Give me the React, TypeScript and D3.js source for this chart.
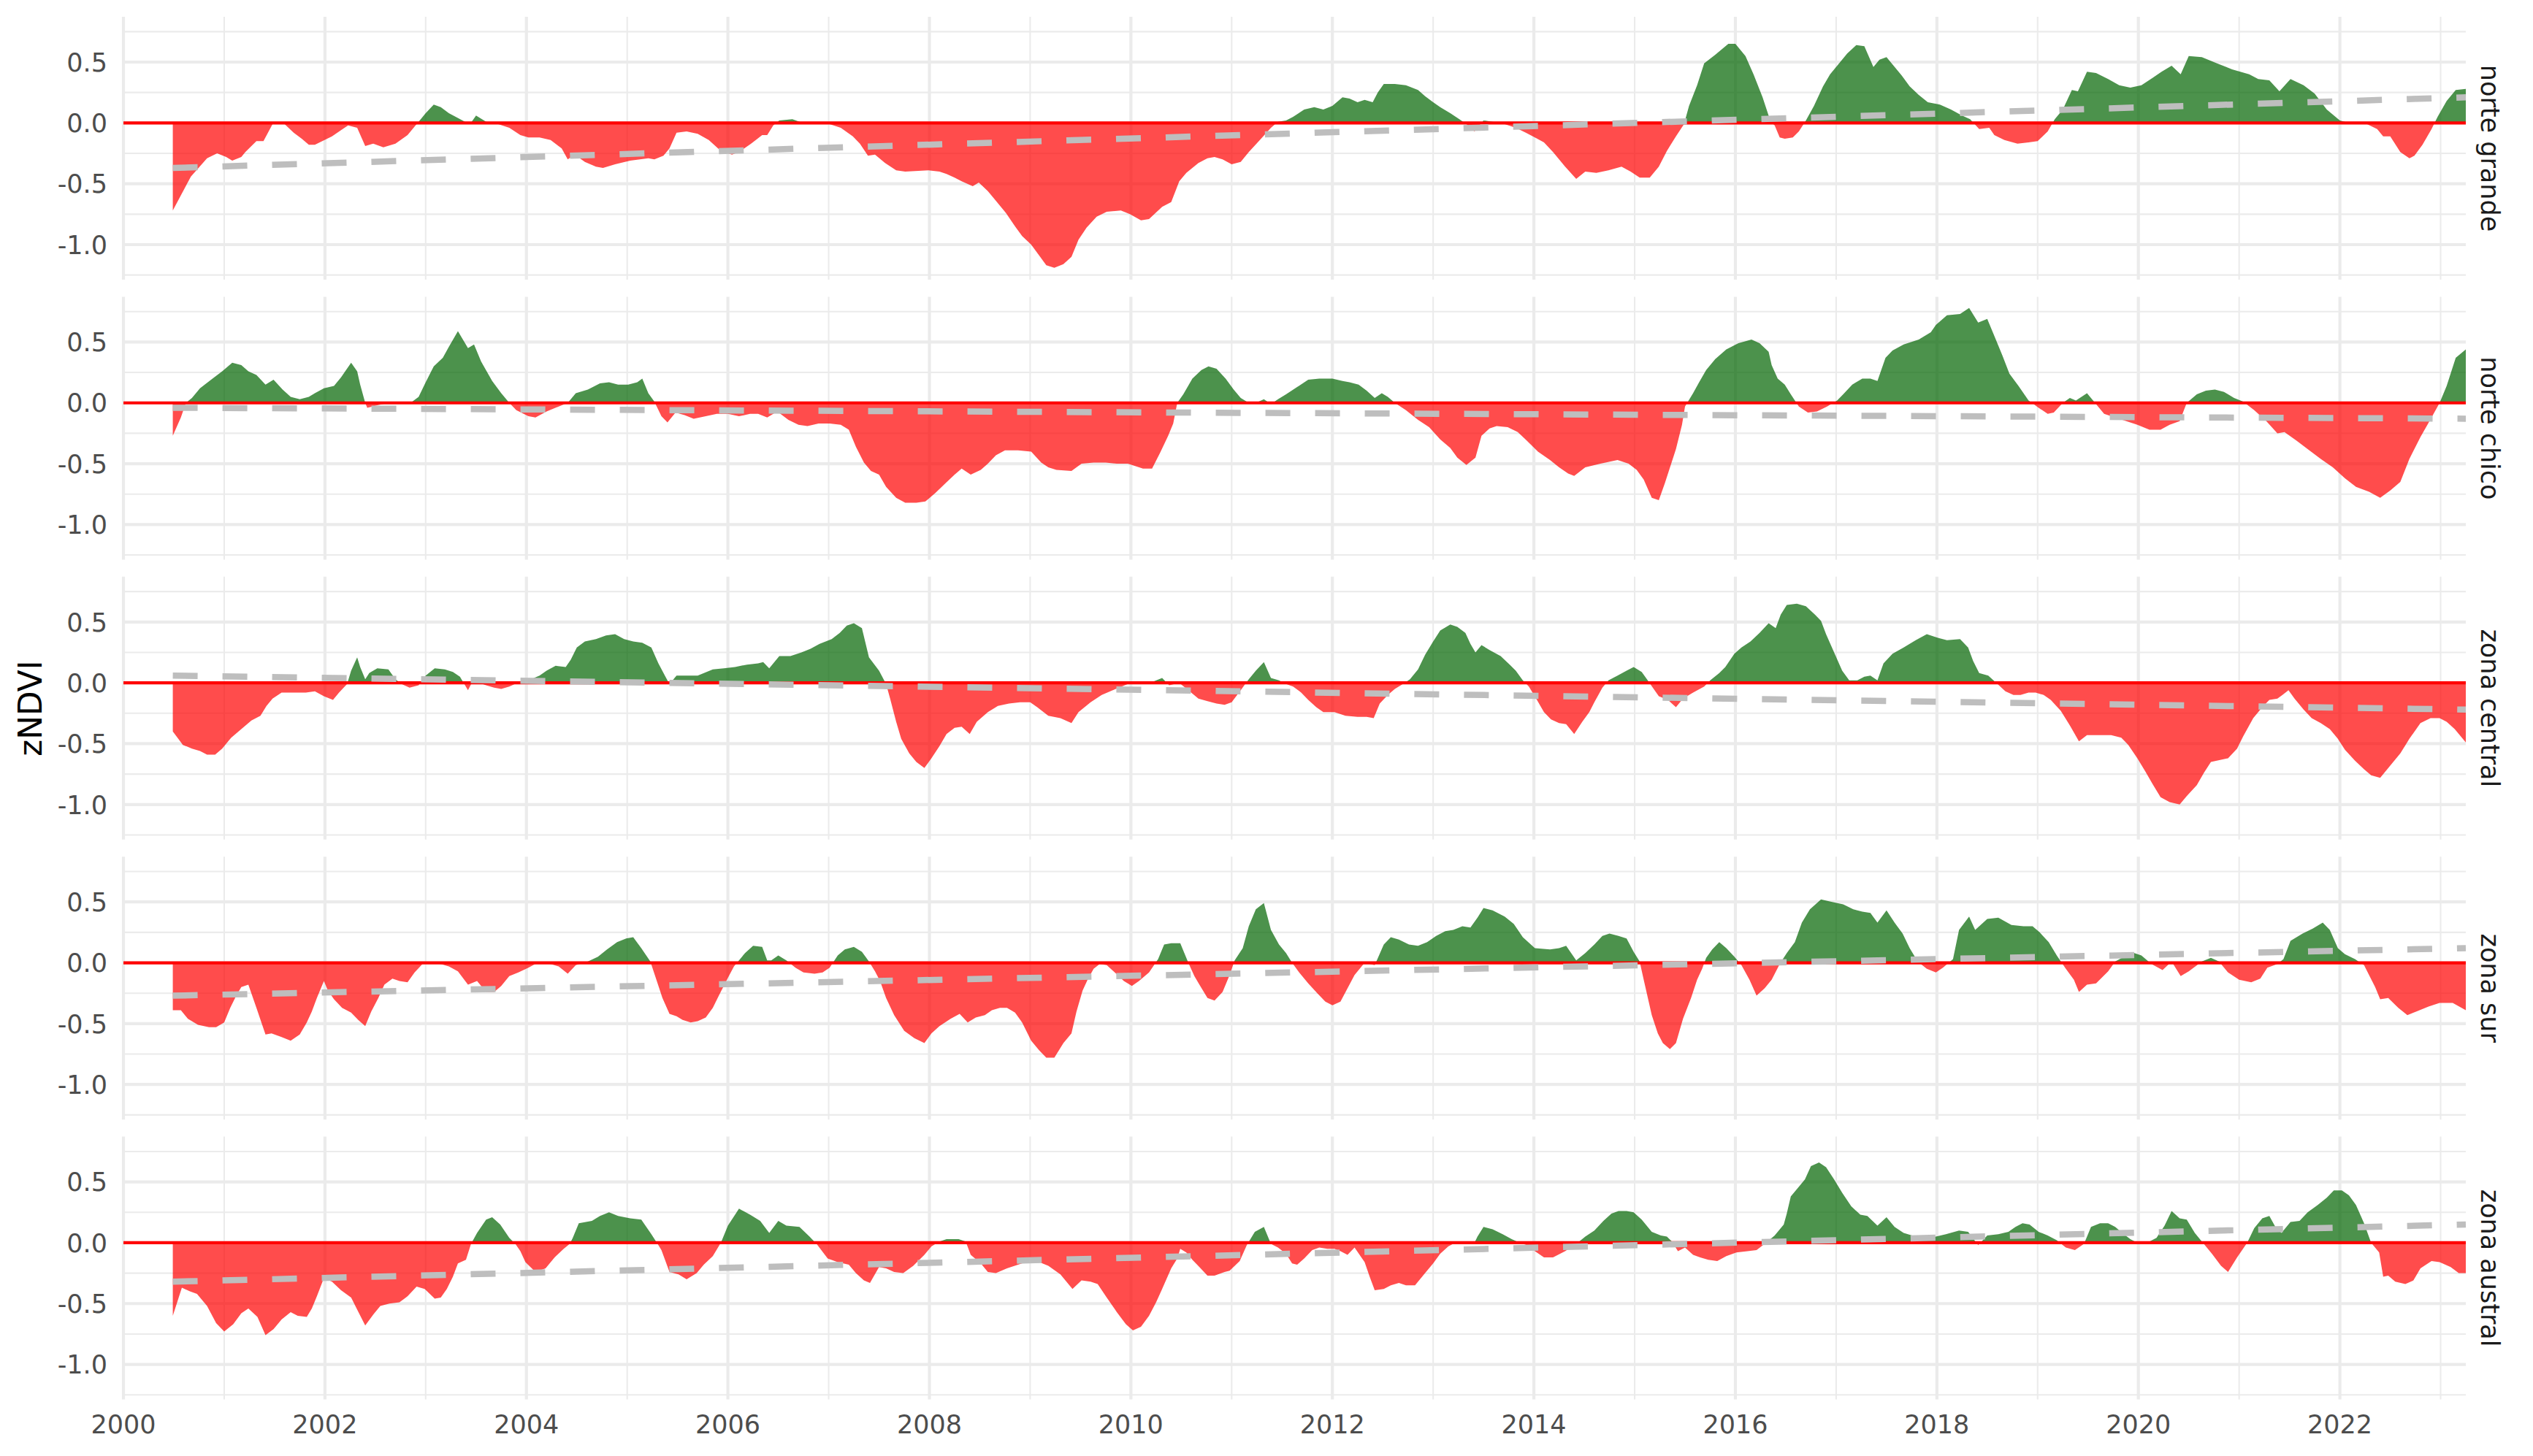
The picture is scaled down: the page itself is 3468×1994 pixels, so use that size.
import React from 'react';
import * as d3 from 'd3';

type Pt = [number, number];

const regions = ['norte grande', 'norte chico', 'zona central', 'zona sur', 'zona austral'];

const norteGrande: Pt[] = [
  [2000.49, -0.72], [2000.67, -0.44], [2000.83, -0.29], [2000.93, -0.25], [2001.02, -0.28], [2001.08, -0.31], [2001.17, -0.28], [2001.21, -0.24], [2001.32, -0.15], [2001.39, -0.15], [2001.48, -0.01], [2001.6, -0.01], [2001.69, -0.08], [2001.77, -0.13], [2001.84, -0.18], [2001.9, -0.18], [2002.07, -0.11], [2002.16, -0.06], [2002.23, -0.02], [2002.32, -0.04], [2002.4, -0.19], [2002.48, -0.17], [2002.58, -0.2], [2002.7, -0.17], [2002.82, -0.1], [2002.88, -0.04], [2002.93, 0.01], [2003.0, 0.08], [2003.08, 0.15], [2003.15, 0.13], [2003.23, 0.08], [2003.39, 0.01], [2003.44, -0.01], [2003.5, 0.06], [2003.6, 0.01], [2003.72, -0.01], [2003.83, -0.04], [2003.94, -0.1], [2004.02, -0.12], [2004.13, -0.12], [2004.24, -0.14], [2004.35, -0.21], [2004.41, -0.3], [2004.48, -0.26], [2004.58, -0.32], [2004.69, -0.36], [2004.76, -0.37], [2004.88, -0.34], [2005.03, -0.31], [2005.21, -0.29], [2005.27, -0.3], [2005.36, -0.27], [2005.42, -0.21], [2005.49, -0.08], [2005.59, -0.07], [2005.7, -0.09], [2005.81, -0.14], [2005.93, -0.23], [2006.04, -0.26], [2006.11, -0.24], [2006.23, -0.17], [2006.34, -0.1], [2006.39, -0.1], [2006.45, -0.02], [2006.51, 0.02], [2006.64, 0.03], [2006.71, 0.01], [2006.82, -0.01], [2007.01, -0.01], [2007.12, -0.04], [2007.24, -0.11], [2007.31, -0.17], [2007.39, -0.27], [2007.46, -0.26], [2007.56, -0.33], [2007.67, -0.39], [2007.76, -0.4], [2007.99, -0.39], [2008.1, -0.4], [2008.17, -0.42], [2008.25, -0.45], [2008.32, -0.48], [2008.43, -0.52], [2008.49, -0.49], [2008.58, -0.56], [2008.66, -0.64], [2008.76, -0.74], [2008.85, -0.85], [2008.92, -0.93], [2009.01, -1.0], [2009.09, -1.09], [2009.16, -1.17], [2009.24, -1.19], [2009.33, -1.16], [2009.41, -1.1], [2009.48, -0.96], [2009.56, -0.86], [2009.66, -0.77], [2009.76, -0.73], [2009.9, -0.72], [2009.99, -0.75], [2010.1, -0.8], [2010.18, -0.79], [2010.31, -0.69], [2010.4, -0.65], [2010.48, -0.48], [2010.55, -0.41], [2010.67, -0.33], [2010.76, -0.29], [2010.83, -0.28], [2010.91, -0.3], [2011.0, -0.34], [2011.09, -0.32], [2011.17, -0.24], [2011.28, -0.14], [2011.39, -0.04], [2011.46, 0.01],
  [2011.54, 0.02], [2011.61, 0.05], [2011.72, 0.11], [2011.82, 0.13], [2011.91, 0.11], [2012.0, 0.14], [2012.1, 0.21], [2012.17, 0.2], [2012.25, 0.17], [2012.32, 0.19], [2012.4, 0.17], [2012.45, 0.25], [2012.51, 0.32], [2012.62, 0.32], [2012.73, 0.31], [2012.85, 0.27], [2012.92, 0.22], [2013.0, 0.17], [2013.07, 0.13], [2013.17, 0.08], [2013.26, 0.03], [2013.33, -0.01], [2013.41, -0.07], [2013.5, 0.02], [2013.59, 0.01], [2013.71, -0.01], [2013.82, -0.04], [2013.92, -0.08], [2014.01, -0.12], [2014.1, -0.16], [2014.19, -0.24], [2014.31, -0.36], [2014.42, -0.46], [2014.51, -0.4], [2014.62, -0.41], [2014.74, -0.39], [2014.87, -0.36], [2014.96, -0.4], [2015.05, -0.45], [2015.15, -0.45], [2015.24, -0.36], [2015.32, -0.23], [2015.41, -0.11], [2015.49, -0.01], [2015.54, 0.14], [2015.62, 0.31], [2015.69, 0.49], [2015.8, 0.56], [2015.93, 0.65], [2016.0, 0.65], [2016.1, 0.55], [2016.18, 0.4], [2016.27, 0.21], [2016.35, 0.01], [2016.39, -0.02], [2016.44, -0.12], [2016.49, -0.13], [2016.57, -0.12], [2016.63, -0.07], [2016.7, 0.02], [2016.78, 0.14], [2016.87, 0.3], [2016.94, 0.4], [2017.04, 0.5], [2017.11, 0.57], [2017.2, 0.64], [2017.28, 0.63], [2017.37, 0.46], [2017.43, 0.52], [2017.5, 0.54], [2017.56, 0.48], [2017.65, 0.39], [2017.73, 0.3], [2017.82, 0.23], [2017.91, 0.17], [2018.03, 0.15], [2018.14, 0.11], [2018.25, 0.06], [2018.33, 0.03], [2018.42, -0.05], [2018.52, -0.04], [2018.57, -0.1], [2018.67, -0.14], [2018.8, -0.17], [2018.91, -0.16], [2019.0, -0.15], [2019.1, -0.07], [2019.17, 0.03], [2019.25, 0.11], [2019.34, 0.27], [2019.4, 0.26], [2019.49, 0.42], [2019.58, 0.41], [2019.7, 0.36], [2019.81, 0.31], [2019.92, 0.29], [2020.03, 0.31], [2020.14, 0.37], [2020.23, 0.42], [2020.33, 0.47], [2020.42, 0.4], [2020.5, 0.55], [2020.63, 0.54], [2020.78, 0.49], [2020.93, 0.44], [2021.1, 0.4], [2021.19, 0.36], [2021.3, 0.35], [2021.4, 0.26], [2021.51, 0.36], [2021.64, 0.31], [2021.75, 0.24], [2021.87, 0.11], [2022.0, 0.02], [2022.09, 0.0], [2022.27, -0.01], [2022.37, -0.05], [2022.43, -0.11], [2022.5, -0.11], [2022.6, -0.24], [2022.69, -0.29], [2022.74, -0.27], [2022.82, -0.18], [2022.91, -0.05], [2022.97, 0.05], [2023.06, 0.18], [2023.15, 0.27], [2023.25, 0.28],
];

const norteChico: Pt[] = [
  [2000.49, -0.27], [2000.57, -0.12], [2000.62, 0.0], [2000.68, 0.04], [2000.76, 0.12], [2000.87, 0.19], [2000.98, 0.26], [2001.08, 0.33], [2001.17, 0.31], [2001.24, 0.26], [2001.32, 0.23], [2001.41, 0.15], [2001.49, 0.19], [2001.58, 0.11], [2001.66, 0.05], [2001.75, 0.03], [2001.84, 0.05], [2001.9, 0.08], [2001.99, 0.12], [2002.09, 0.14], [2002.16, 0.21], [2002.26, 0.33], [2002.32, 0.26], [2002.35, 0.15], [2002.4, 0.0], [2002.42, -0.04], [2002.52, -0.02], [2002.63, 0.0], [2002.85, 0.0], [2002.93, 0.05], [2003.0, 0.17], [2003.08, 0.3], [2003.17, 0.37], [2003.23, 0.46], [2003.32, 0.59], [2003.42, 0.45], [2003.48, 0.48], [2003.55, 0.34], [2003.66, 0.18], [2003.75, 0.08], [2003.83, 0.0], [2003.9, -0.06], [2004.02, -0.11], [2004.09, -0.12], [2004.2, -0.07], [2004.32, -0.03], [2004.41, 0.0], [2004.49, 0.08], [2004.61, 0.11], [2004.73, 0.16], [2004.82, 0.17], [2004.91, 0.15], [2005.01, 0.15], [2005.1, 0.17], [2005.15, 0.2], [2005.21, 0.08], [2005.27, 0.01], [2005.34, -0.11], [2005.4, -0.16], [2005.48, -0.08], [2005.57, -0.1], [2005.66, -0.13], [2005.78, -0.11], [2005.89, -0.09], [2006.0, -0.09], [2006.11, -0.11], [2006.22, -0.09], [2006.3, -0.09], [2006.39, -0.12], [2006.49, -0.07], [2006.6, -0.14], [2006.7, -0.18], [2006.79, -0.19], [2006.9, -0.17], [2007.01, -0.17], [2007.12, -0.18], [2007.2, -0.22], [2007.27, -0.36], [2007.35, -0.49], [2007.42, -0.56], [2007.5, -0.59], [2007.57, -0.69], [2007.67, -0.78], [2007.76, -0.82], [2007.87, -0.82], [2007.96, -0.81], [2008.06, -0.74], [2008.16, -0.66], [2008.25, -0.59], [2008.32, -0.54], [2008.41, -0.59], [2008.51, -0.55], [2008.58, -0.5], [2008.66, -0.43], [2008.75, -0.39], [2008.88, -0.39], [2009.01, -0.4], [2009.11, -0.49], [2009.18, -0.53], [2009.26, -0.55], [2009.41, -0.56], [2009.51, -0.5], [2009.63, -0.49], [2009.75, -0.49], [2009.86, -0.5], [2009.97, -0.5], [2010.12, -0.54], [2010.21, -0.54], [2010.29, -0.41], [2010.37, -0.27], [2010.42, -0.17], [2010.46, 0.0], [2010.52, 0.07], [2010.61, 0.2], [2010.7, 0.27], [2010.77, 0.3], [2010.85, 0.28], [2010.94, 0.2], [2011.02, 0.11], [2011.09, 0.04], [2011.17, 0.0], [2011.24, 0.0], [2011.32, 0.03], [2011.39, -0.01], [2011.46, 0.03],
  [2011.54, 0.07], [2011.65, 0.13], [2011.76, 0.19], [2011.87, 0.2], [2012.0, 0.2], [2012.1, 0.18], [2012.17, 0.17], [2012.26, 0.15], [2012.34, 0.1], [2012.42, 0.04], [2012.49, 0.08], [2012.55, 0.05], [2012.62, 0.0], [2012.73, -0.06], [2012.85, -0.14], [2012.96, -0.2], [2013.07, -0.3], [2013.17, -0.37], [2013.24, -0.45], [2013.33, -0.51], [2013.42, -0.45], [2013.48, -0.27], [2013.56, -0.21], [2013.63, -0.19], [2013.74, -0.2], [2013.84, -0.24], [2013.93, -0.31], [2014.04, -0.4], [2014.16, -0.47], [2014.25, -0.53], [2014.34, -0.58], [2014.4, -0.6], [2014.51, -0.53], [2014.66, -0.5], [2014.83, -0.47], [2014.94, -0.5], [2015.02, -0.55], [2015.09, -0.63], [2015.17, -0.78], [2015.24, -0.8], [2015.3, -0.66], [2015.41, -0.38], [2015.47, -0.18], [2015.5, -0.03], [2015.58, 0.08], [2015.64, 0.17], [2015.71, 0.27], [2015.8, 0.36], [2015.91, 0.44], [2016.03, 0.49], [2016.16, 0.52], [2016.24, 0.49], [2016.33, 0.42], [2016.36, 0.31], [2016.42, 0.2], [2016.49, 0.15], [2016.55, 0.07], [2016.63, -0.03], [2016.72, -0.08], [2016.81, -0.07], [2016.91, -0.03], [2017.01, 0.02], [2017.07, 0.07], [2017.16, 0.15], [2017.26, 0.2], [2017.34, 0.2], [2017.41, 0.18], [2017.49, 0.37], [2017.56, 0.43], [2017.67, 0.48], [2017.82, 0.52], [2017.94, 0.58], [2017.99, 0.64], [2018.1, 0.72], [2018.23, 0.73], [2018.32, 0.78], [2018.41, 0.66], [2018.5, 0.69], [2018.57, 0.55], [2018.65, 0.39], [2018.72, 0.24], [2018.81, 0.14], [2018.91, 0.02], [2019.01, -0.04], [2019.1, -0.09], [2019.16, -0.08], [2019.25, 0.0], [2019.32, 0.04], [2019.38, 0.02], [2019.49, 0.08], [2019.58, -0.01], [2019.66, -0.09], [2019.77, -0.12], [2019.88, -0.15], [2019.99, -0.18], [2020.11, -0.22], [2020.22, -0.22], [2020.31, -0.18], [2020.41, -0.15], [2020.48, 0.0], [2020.58, 0.07], [2020.67, 0.1], [2020.76, 0.11], [2020.85, 0.09], [2020.95, 0.04], [2021.04, 0.01], [2021.15, -0.06], [2021.27, -0.15], [2021.38, -0.25], [2021.45, -0.24], [2021.57, -0.31], [2021.68, -0.38], [2021.81, -0.46], [2021.93, -0.53], [2022.05, -0.62], [2022.16, -0.69], [2022.29, -0.73], [2022.4, -0.78], [2022.5, -0.72], [2022.6, -0.65], [2022.69, -0.46], [2022.8, -0.28], [2022.91, -0.12], [2022.99, 0.0], [2023.06, 0.14], [2023.15, 0.37], [2023.25, 0.44],
];

const zonaCentral: Pt[] = [
  [2000.49, -0.4], [2000.59, -0.51], [2000.68, -0.54], [2000.76, -0.56], [2000.83, -0.59], [2000.91, -0.59], [2000.98, -0.54], [2001.07, -0.45], [2001.17, -0.38], [2001.27, -0.31], [2001.36, -0.27], [2001.42, -0.19], [2001.48, -0.13], [2001.57, -0.08], [2001.69, -0.08], [2001.81, -0.08], [2001.9, -0.07], [2001.99, -0.11], [2002.08, -0.14], [2002.14, -0.08], [2002.22, -0.01], [2002.26, 0.1], [2002.32, 0.21], [2002.35, 0.13], [2002.4, 0.03], [2002.44, 0.08], [2002.52, 0.12], [2002.63, 0.11], [2002.7, 0.03], [2002.76, -0.01], [2002.84, -0.04], [2002.93, -0.02], [2003.0, 0.06], [2003.09, 0.12], [2003.19, 0.11], [2003.27, 0.09], [2003.34, 0.05], [2003.42, -0.06], [2003.47, 0.02], [2003.53, 0.0], [2003.6, -0.02], [2003.68, -0.04], [2003.75, -0.05], [2003.83, -0.03], [2003.94, 0.01], [2004.02, 0.02], [2004.13, 0.06], [2004.2, 0.1], [2004.29, 0.14], [2004.39, 0.13], [2004.44, 0.19], [2004.5, 0.29], [2004.58, 0.34], [2004.69, 0.36], [2004.79, 0.39], [2004.88, 0.4], [2004.97, 0.36], [2005.06, 0.34], [2005.15, 0.33], [2005.24, 0.29], [2005.31, 0.16], [2005.38, 0.05], [2005.42, -0.01], [2005.49, 0.06], [2005.59, 0.06], [2005.7, 0.06], [2005.85, 0.11], [2005.96, 0.12], [2006.07, 0.13], [2006.19, 0.15], [2006.3, 0.16], [2006.35, 0.17], [2006.41, 0.12], [2006.51, 0.22], [2006.62, 0.22], [2006.73, 0.25], [2006.82, 0.28], [2006.91, 0.32], [2007.03, 0.36], [2007.11, 0.41], [2007.18, 0.47], [2007.25, 0.49], [2007.33, 0.45], [2007.4, 0.21], [2007.5, 0.1], [2007.57, -0.01], [2007.61, -0.13], [2007.67, -0.32], [2007.72, -0.46], [2007.8, -0.58], [2007.87, -0.65], [2007.95, -0.7], [2008.02, -0.62], [2008.1, -0.52], [2008.17, -0.42], [2008.25, -0.37], [2008.32, -0.36], [2008.4, -0.42], [2008.47, -0.32], [2008.58, -0.24], [2008.68, -0.19], [2008.79, -0.17], [2008.9, -0.16], [2009.0, -0.16], [2009.07, -0.2], [2009.18, -0.27], [2009.3, -0.29], [2009.41, -0.33], [2009.48, -0.24], [2009.6, -0.16], [2009.71, -0.1], [2009.82, -0.06], [2009.97, -0.01], [2010.08, 0.0], [2010.22, 0.01], [2010.31, 0.04], [2010.38, -0.02], [2010.48, 0.0], [2010.57, -0.06], [2010.67, -0.13], [2010.76, -0.15], [2010.85, -0.17], [2010.93, -0.18], [2011.0, -0.16], [2011.09, -0.06], [2011.17, 0.03], [2011.24, 0.1], [2011.32, 0.17], [2011.39, 0.04], [2011.47, 0.02],
  [2011.54, -0.01], [2011.61, -0.03], [2011.69, -0.08], [2011.76, -0.14], [2011.84, -0.2], [2011.91, -0.24], [2012.02, -0.24], [2012.13, -0.27], [2012.25, -0.28], [2012.34, -0.28], [2012.41, -0.29], [2012.47, -0.17], [2012.55, -0.1], [2012.62, -0.05], [2012.7, -0.01], [2012.77, 0.03], [2012.85, 0.11], [2012.92, 0.23], [2013.0, 0.34], [2013.07, 0.43], [2013.17, 0.48], [2013.24, 0.46], [2013.32, 0.41], [2013.37, 0.32], [2013.42, 0.25], [2013.48, 0.31], [2013.56, 0.27], [2013.67, 0.22], [2013.76, 0.15], [2013.82, 0.1], [2013.89, 0.02], [2013.95, -0.03], [2014.03, -0.14], [2014.1, -0.24], [2014.17, -0.3], [2014.25, -0.33], [2014.32, -0.34], [2014.4, -0.42], [2014.48, -0.32], [2014.55, -0.24], [2014.6, -0.16], [2014.68, -0.04], [2014.74, 0.02], [2014.83, 0.06], [2014.92, 0.1], [2014.99, 0.13], [2015.07, 0.09], [2015.13, 0.02], [2015.18, -0.04], [2015.24, -0.11], [2015.33, -0.14], [2015.41, -0.2], [2015.48, -0.13], [2015.58, -0.08], [2015.69, -0.03], [2015.75, 0.02], [2015.84, 0.08], [2015.9, 0.13], [2015.99, 0.24], [2016.06, 0.29], [2016.15, 0.34], [2016.24, 0.41], [2016.33, 0.49], [2016.4, 0.45], [2016.45, 0.56], [2016.51, 0.64], [2016.61, 0.65], [2016.7, 0.63], [2016.79, 0.56], [2016.85, 0.51], [2016.9, 0.4], [2016.98, 0.25], [2017.06, 0.1], [2017.13, 0.02], [2017.21, 0.02], [2017.28, 0.05], [2017.34, 0.06], [2017.41, 0.02], [2017.47, 0.16], [2017.56, 0.24], [2017.67, 0.29], [2017.79, 0.35], [2017.9, 0.4], [2018.01, 0.37], [2018.1, 0.35], [2018.23, 0.36], [2018.31, 0.29], [2018.36, 0.18], [2018.42, 0.08], [2018.51, 0.06], [2018.59, 0.0], [2018.68, -0.07], [2018.76, -0.1], [2018.83, -0.1], [2018.91, -0.08], [2018.98, -0.08], [2019.06, -0.1], [2019.13, -0.14], [2019.23, -0.23], [2019.32, -0.35], [2019.41, -0.48], [2019.49, -0.43], [2019.61, -0.43], [2019.73, -0.43], [2019.83, -0.45], [2019.9, -0.51], [2019.99, -0.62], [2020.07, -0.73], [2020.14, -0.83], [2020.22, -0.94], [2020.31, -0.98], [2020.41, -1.0], [2020.48, -0.93], [2020.58, -0.84], [2020.65, -0.74], [2020.72, -0.65], [2020.89, -0.62], [2020.98, -0.54], [2021.04, -0.44], [2021.14, -0.29], [2021.23, -0.2], [2021.3, -0.14], [2021.38, -0.13], [2021.43, -0.1], [2021.49, -0.06], [2021.55, -0.13], [2021.64, -0.22], [2021.72, -0.29], [2021.81, -0.33], [2021.9, -0.38], [2021.98, -0.46], [2022.05, -0.55], [2022.15, -0.64], [2022.24, -0.71], [2022.31, -0.76], [2022.4, -0.78], [2022.5, -0.68], [2022.6, -0.58], [2022.69, -0.46], [2022.8, -0.33], [2022.9, -0.29], [2022.99, -0.29], [2023.06, -0.32], [2023.14, -0.38], [2023.25, -0.49],
];

const zonaSur: Pt[] = [
  [2000.49, -0.39], [2000.57, -0.39], [2000.64, -0.46], [2000.74, -0.51], [2000.85, -0.53], [2000.92, -0.53], [2001.0, -0.49], [2001.06, -0.37], [2001.12, -0.27], [2001.17, -0.2], [2001.24, -0.18], [2001.32, -0.37], [2001.41, -0.59], [2001.47, -0.58], [2001.57, -0.61], [2001.66, -0.64], [2001.75, -0.59], [2001.82, -0.49], [2001.87, -0.4], [2001.92, -0.29], [2001.99, -0.15], [2002.03, -0.23], [2002.09, -0.3], [2002.17, -0.37], [2002.26, -0.41], [2002.33, -0.47], [2002.4, -0.52], [2002.46, -0.4], [2002.53, -0.29], [2002.59, -0.18], [2002.67, -0.13], [2002.74, -0.15], [2002.82, -0.16], [2002.89, -0.08], [2002.98, 0.0], [2003.15, -0.01], [2003.23, -0.03], [2003.32, -0.07], [2003.42, -0.18], [2003.51, -0.15], [2003.6, -0.24], [2003.68, -0.24], [2003.75, -0.19], [2003.83, -0.11], [2003.92, -0.08], [2004.02, -0.04], [2004.11, 0.0], [2004.24, -0.01], [2004.32, -0.03], [2004.41, -0.09], [2004.49, -0.02], [2004.61, 0.01], [2004.71, 0.05], [2004.8, 0.11], [2004.9, 0.17], [2004.99, 0.2], [2005.06, 0.21], [2005.14, 0.12], [2005.23, 0.01], [2005.29, -0.14], [2005.35, -0.29], [2005.42, -0.42], [2005.49, -0.44], [2005.55, -0.47], [2005.63, -0.49], [2005.7, -0.48], [2005.78, -0.45], [2005.85, -0.37], [2005.91, -0.27], [2005.99, -0.14], [2006.06, -0.03], [2006.11, 0.02], [2006.17, 0.08], [2006.25, 0.14], [2006.34, 0.13], [2006.39, 0.02], [2006.43, 0.02], [2006.5, 0.06], [2006.58, 0.02], [2006.67, -0.04], [2006.75, -0.08], [2006.86, -0.09], [2006.94, -0.08], [2007.01, -0.04], [2007.09, 0.06], [2007.16, 0.11], [2007.25, 0.13], [2007.33, 0.09], [2007.4, 0.01], [2007.46, -0.07], [2007.51, -0.15], [2007.57, -0.29], [2007.65, -0.43], [2007.75, -0.56], [2007.85, -0.62], [2007.95, -0.66], [2008.02, -0.58], [2008.1, -0.52], [2008.21, -0.46], [2008.3, -0.42], [2008.38, -0.49], [2008.46, -0.45], [2008.55, -0.43], [2008.62, -0.39], [2008.7, -0.37], [2008.77, -0.37], [2008.85, -0.41], [2008.92, -0.49], [2009.01, -0.64], [2009.09, -0.72], [2009.16, -0.78], [2009.24, -0.78], [2009.33, -0.66], [2009.41, -0.58], [2009.46, -0.4], [2009.52, -0.23], [2009.57, -0.14], [2009.63, -0.05], [2009.69, -0.01], [2009.76, -0.02], [2009.84, -0.08], [2009.93, -0.15], [2010.01, -0.19], [2010.08, -0.15], [2010.18, -0.08], [2010.27, 0.03], [2010.33, 0.15], [2010.4, 0.16], [2010.49, 0.16], [2010.57, 0.0], [2010.63, -0.11], [2010.68, -0.18], [2010.76, -0.29], [2010.83, -0.31], [2010.91, -0.24], [2010.98, -0.1], [2011.03, 0.02], [2011.11, 0.12], [2011.17, 0.3], [2011.24, 0.44], [2011.32, 0.49], [2011.39, 0.27], [2011.47, 0.15],
  [2011.54, 0.08], [2011.6, 0.0], [2011.67, -0.08], [2011.76, -0.17], [2011.85, -0.25], [2011.93, -0.32], [2012.0, -0.35], [2012.08, -0.32], [2012.15, -0.21], [2012.22, -0.1], [2012.32, 0.0], [2012.42, -0.02], [2012.51, 0.15], [2012.58, 0.21], [2012.66, 0.19], [2012.76, 0.15], [2012.85, 0.14], [2012.94, 0.17], [2013.03, 0.22], [2013.12, 0.26], [2013.2, 0.27], [2013.29, 0.3], [2013.37, 0.29], [2013.44, 0.37], [2013.5, 0.45], [2013.59, 0.43], [2013.71, 0.38], [2013.8, 0.32], [2013.89, 0.21], [2014.01, 0.12], [2014.16, 0.11], [2014.25, 0.12], [2014.32, 0.14], [2014.42, 0.02], [2014.51, 0.08], [2014.6, 0.15], [2014.68, 0.22], [2014.75, 0.24], [2014.84, 0.22], [2014.92, 0.2], [2014.99, 0.09], [2015.05, 0.01], [2015.09, -0.14], [2015.17, -0.43], [2015.23, -0.58], [2015.28, -0.66], [2015.35, -0.71], [2015.41, -0.66], [2015.48, -0.46], [2015.56, -0.29], [2015.62, -0.14], [2015.67, -0.05], [2015.71, 0.04], [2015.77, 0.11], [2015.84, 0.17], [2015.91, 0.12], [2015.99, 0.05], [2016.06, -0.02], [2016.14, -0.14], [2016.21, -0.27], [2016.29, -0.21], [2016.36, -0.14], [2016.44, -0.01], [2016.51, 0.08], [2016.59, 0.17], [2016.66, 0.33], [2016.74, 0.44], [2016.85, 0.52], [2016.96, 0.5], [2017.07, 0.48], [2017.17, 0.44], [2017.26, 0.42], [2017.34, 0.41], [2017.41, 0.33], [2017.5, 0.43], [2017.58, 0.33], [2017.66, 0.24], [2017.73, 0.12], [2017.81, 0.01], [2017.9, -0.05], [2017.99, -0.08], [2018.06, -0.04], [2018.16, 0.03], [2018.22, 0.27], [2018.32, 0.38], [2018.38, 0.27], [2018.5, 0.36], [2018.61, 0.37], [2018.74, 0.31], [2018.86, 0.3], [2018.95, 0.3], [2019.02, 0.25], [2019.11, 0.17], [2019.19, 0.06], [2019.28, -0.05], [2019.36, -0.14], [2019.41, -0.24], [2019.49, -0.18], [2019.58, -0.17], [2019.7, -0.07], [2019.77, 0.01], [2019.88, 0.06], [2019.96, 0.08], [2020.03, 0.06], [2020.13, -0.01], [2020.24, -0.06], [2020.33, 0.01], [2020.42, -0.11], [2020.5, -0.07], [2020.63, 0.01], [2020.72, 0.04], [2020.8, 0.01], [2020.89, -0.08], [2021.0, -0.14], [2021.12, -0.16], [2021.21, -0.13], [2021.28, -0.04], [2021.38, -0.01], [2021.44, 0.03], [2021.51, 0.18], [2021.63, 0.24], [2021.73, 0.28], [2021.83, 0.33], [2021.9, 0.27], [2021.98, 0.12], [2022.05, 0.07], [2022.15, 0.03], [2022.24, -0.02], [2022.35, -0.2], [2022.4, -0.3], [2022.48, -0.29], [2022.58, -0.37], [2022.67, -0.43], [2022.76, -0.4], [2022.88, -0.36], [2022.99, -0.33], [2023.12, -0.33], [2023.25, -0.39],
];

const zonaAustral: Pt[] = [
  [2000.49, -0.6], [2000.58, -0.37], [2000.66, -0.4], [2000.73, -0.42], [2000.83, -0.52], [2000.92, -0.66], [2001.0, -0.73], [2001.09, -0.67], [2001.17, -0.58], [2001.24, -0.54], [2001.33, -0.61], [2001.41, -0.76], [2001.49, -0.71], [2001.57, -0.63], [2001.66, -0.57], [2001.73, -0.6], [2001.82, -0.61], [2001.87, -0.54], [2001.92, -0.44], [2001.99, -0.29], [2002.07, -0.32], [2002.16, -0.39], [2002.26, -0.45], [2002.32, -0.55], [2002.4, -0.68], [2002.48, -0.59], [2002.55, -0.52], [2002.64, -0.5], [2002.74, -0.49], [2002.82, -0.44], [2002.91, -0.36], [2002.99, -0.38], [2003.09, -0.46], [2003.15, -0.45], [2003.21, -0.38], [2003.27, -0.28], [2003.32, -0.17], [2003.4, -0.14], [2003.45, -0.01], [2003.51, 0.08], [2003.6, 0.19], [2003.66, 0.21], [2003.74, 0.15], [2003.83, 0.04], [2003.89, -0.01], [2003.94, -0.07], [2003.99, -0.16], [2004.09, -0.24], [2004.19, -0.21], [2004.28, -0.12], [2004.37, -0.05], [2004.43, -0.01], [2004.46, 0.04], [2004.52, 0.16], [2004.65, 0.18], [2004.73, 0.22], [2004.82, 0.25], [2004.91, 0.22], [2005.03, 0.2], [2005.14, 0.19], [2005.24, 0.07], [2005.31, -0.02], [2005.34, -0.06], [2005.42, -0.24], [2005.51, -0.26], [2005.59, -0.3], [2005.69, -0.25], [2005.76, -0.18], [2005.85, -0.11], [2005.93, 0.0], [2006.0, 0.14], [2006.11, 0.28], [2006.22, 0.23], [2006.32, 0.18], [2006.41, 0.08], [2006.5, 0.18], [2006.58, 0.14], [2006.71, 0.13], [2006.81, 0.05], [2006.88, -0.01], [2006.99, -0.13], [2007.09, -0.16], [2007.2, -0.18], [2007.27, -0.25], [2007.35, -0.31], [2007.41, -0.33], [2007.5, -0.2], [2007.57, -0.21], [2007.65, -0.24], [2007.74, -0.25], [2007.84, -0.19], [2007.95, -0.1], [2008.02, -0.03], [2008.1, 0.01], [2008.17, 0.03], [2008.29, 0.03], [2008.36, 0.01], [2008.41, -0.1], [2008.51, -0.17], [2008.58, -0.24], [2008.66, -0.25], [2008.77, -0.21], [2008.88, -0.18], [2008.99, -0.15], [2009.09, -0.16], [2009.18, -0.19], [2009.3, -0.26], [2009.36, -0.32], [2009.42, -0.38], [2009.51, -0.31], [2009.6, -0.32], [2009.67, -0.34], [2009.76, -0.45], [2009.86, -0.57], [2009.95, -0.67], [2010.02, -0.72], [2010.1, -0.69], [2010.18, -0.6], [2010.25, -0.49], [2010.31, -0.38], [2010.4, -0.21], [2010.46, -0.13], [2010.49, -0.05], [2010.55, -0.08], [2010.61, -0.14], [2010.68, -0.2], [2010.76, -0.27], [2010.83, -0.27], [2010.93, -0.24], [2010.98, -0.23], [2011.08, -0.15], [2011.15, -0.02], [2011.23, 0.09], [2011.32, 0.13], [2011.39, -0.01], [2011.46, -0.04],
  [2011.54, -0.09], [2011.6, -0.17], [2011.65, -0.18], [2011.72, -0.13], [2011.8, -0.06], [2011.87, -0.04], [2011.95, -0.05], [2012.02, -0.05], [2012.08, -0.07], [2012.15, -0.1], [2012.22, -0.04], [2012.32, -0.16], [2012.37, -0.28], [2012.42, -0.39], [2012.51, -0.38], [2012.58, -0.35], [2012.66, -0.33], [2012.73, -0.35], [2012.82, -0.35], [2012.92, -0.25], [2013.0, -0.17], [2013.07, -0.09], [2013.15, -0.03], [2013.22, 0.0], [2013.32, 0.01], [2013.41, 0.0], [2013.44, 0.05], [2013.5, 0.13], [2013.59, 0.11], [2013.69, 0.07], [2013.78, 0.03], [2013.86, 0.0], [2013.93, -0.02], [2014.01, -0.07], [2014.1, -0.12], [2014.19, -0.12], [2014.31, -0.07], [2014.42, -0.01], [2014.51, 0.05], [2014.6, 0.1], [2014.69, 0.18], [2014.77, 0.24], [2014.84, 0.26], [2014.92, 0.26], [2014.99, 0.25], [2015.07, 0.19], [2015.17, 0.09], [2015.26, 0.06], [2015.32, 0.05], [2015.37, 0.01], [2015.43, -0.07], [2015.5, -0.04], [2015.58, -0.1], [2015.65, -0.12], [2015.73, -0.14], [2015.82, -0.15], [2015.91, -0.11], [2016.01, -0.08], [2016.12, -0.07], [2016.21, -0.06], [2016.29, -0.01], [2016.39, 0.06], [2016.48, 0.15], [2016.51, 0.24], [2016.55, 0.38], [2016.63, 0.46], [2016.69, 0.52], [2016.75, 0.63], [2016.83, 0.66], [2016.9, 0.62], [2016.98, 0.52], [2017.06, 0.41], [2017.15, 0.3], [2017.24, 0.23], [2017.31, 0.22], [2017.41, 0.14], [2017.5, 0.21], [2017.58, 0.13], [2017.67, 0.08], [2017.79, 0.05], [2017.9, 0.04], [2017.99, 0.05], [2018.09, 0.07], [2018.22, 0.1], [2018.31, 0.09], [2018.41, -0.02], [2018.5, 0.06], [2018.61, 0.07], [2018.71, 0.09], [2018.78, 0.13], [2018.85, 0.16], [2018.92, 0.15], [2019.01, 0.09], [2019.1, 0.06], [2019.19, 0.02], [2019.28, -0.04], [2019.37, -0.06], [2019.46, -0.01], [2019.53, 0.13], [2019.62, 0.16], [2019.7, 0.16], [2019.77, 0.13], [2019.84, 0.08], [2019.92, 0.03], [2019.99, 0.0], [2020.11, 0.01], [2020.18, 0.04], [2020.26, 0.14], [2020.33, 0.26], [2020.41, 0.2], [2020.48, 0.19], [2020.56, 0.08], [2020.63, 0.01], [2020.73, -0.09], [2020.82, -0.19], [2020.89, -0.24], [2020.98, -0.12], [2021.08, 0.0], [2021.15, 0.12], [2021.23, 0.2], [2021.3, 0.22], [2021.36, 0.13], [2021.42, 0.08], [2021.51, 0.17], [2021.6, 0.18], [2021.68, 0.25], [2021.78, 0.31], [2021.87, 0.37], [2021.94, 0.43], [2022.02, 0.43], [2022.09, 0.39], [2022.16, 0.31], [2022.24, 0.16], [2022.31, 0.0], [2022.39, -0.08], [2022.43, -0.28], [2022.48, -0.27], [2022.55, -0.32], [2022.65, -0.34], [2022.73, -0.31], [2022.8, -0.21], [2022.91, -0.15], [2022.99, -0.16], [2023.1, -0.2], [2023.18, -0.25], [2023.25, -0.25],
];

const seriesList: Pt[][] = [norteGrande, norteChico, zonaCentral, zonaSur, zonaAustral];

// linear trend (fitted line) value at first and last date of each region
const trendStart = [-0.37, -0.04, 0.06, -0.27, -0.32];
const trendEnd = [0.21, -0.13, -0.22, 0.12, 0.15];

const yMajor = [-1.0, -0.5, 0.0, 0.5];
const yMinor = [-1.25, -0.75, -0.25, 0.25, 0.75];
const yLabels = ['-1.0', '-0.5', '0.0', '0.5'];
const xMajor = [2000, 2002, 2004, 2006, 2008, 2010, 2012, 2014, 2016, 2018, 2020, 2022];
const xMinor = [2001, 2003, 2005, 2007, 2009, 2011, 2013, 2015, 2017, 2019, 2021, 2023];

const W = 3468;
const H = 1994;
const PL = 169;
const PR = 3376;
const PT = 23;
const PH = 360;
const GAP = 23.4;
const YDOM: [number, number] = [-1.288, 0.872];
const XDOM: [number, number] = [2000, 2023.25];
const FONT = 'DejaVu Sans, Verdana, sans-serif';

export default function App() {
  const x = d3.scaleLinear().domain(XDOM).range([PL, PR]);
  return (
    <svg
      width={W}
      height={H}
      viewBox={`0 0 ${W} ${H}`}
      style={{ position: 'absolute', left: 0, top: 0, display: 'block' }}
      fontFamily={FONT}
    >
      <rect x={0} y={0} width={W} height={H} fill="#ffffff" />
      {seriesList.map((data, i) => {
        const top = PT + i * (PH + GAP);
        const bottom = top + PH;
        const y = d3.scaleLinear().domain(YDOM).range([bottom, top]);
        const zy = y(0);
        const area = d3
          .area<Pt>()
          .x((d) => x(d[0]))
          .y0(zy)
          .y1((d) => y(d[1]));
        const p = area(data) || '';
        const first = data[0][0];
        const last = data[data.length - 1][0];
        const trend = d3
          .line<Pt>()
          .x((d) => x(d[0]))
          .y((d) => y(d[1]))([
          [first, trendStart[i]],
          [last, trendEnd[i]],
        ]) || '';
        return (
          <g key={regions[i]}>
            <defs>
              <clipPath id={`pos-${i}`}>
                <rect x={PL} y={top} width={PR - PL} height={zy - top} />
              </clipPath>
              <clipPath id={`neg-${i}`}>
                <rect x={PL} y={zy} width={PR - PL} height={bottom - zy} />
              </clipPath>
            </defs>
            {yMinor.map((v) => (
              <line key={`ym${v}`} x1={PL} x2={PR} y1={y(v)} y2={y(v)} stroke="#EBEBEB" strokeWidth={2.1} />
            ))}
            {xMinor.map((v) => (
              <line key={`xm${v}`} x1={x(v)} x2={x(v)} y1={top} y2={bottom} stroke="#EBEBEB" strokeWidth={2.1} />
            ))}
            {yMajor.map((v) => (
              <line key={`yM${v}`} x1={PL} x2={PR} y1={y(v)} y2={y(v)} stroke="#EBEBEB" strokeWidth={4.2} />
            ))}
            {xMajor.map((v) => (
              <line key={`xM${v}`} x1={x(v)} x2={x(v)} y1={top} y2={bottom} stroke="#EBEBEB" strokeWidth={4.2} />
            ))}
            <path d={p} fill="#006400" fillOpacity={0.7} clipPath={`url(#pos-${i})`} />
            <path d={p} fill="#FF0000" fillOpacity={0.7} clipPath={`url(#neg-${i})`} />
            <line x1={PL} x2={PR} y1={zy} y2={zy} stroke="#FF0000" strokeWidth={4.2} />
            <path d={trend} fill="none" stroke="#BEBEBE" strokeWidth={8.5} strokeDasharray="34 34" />
            {yMajor.map((v, k) => (
              <text key={`yl${v}`} x={147} y={y(v) + 12.7} textAnchor="end" fontSize={35} fill="#4D4D4D">
                {yLabels[k]}
              </text>
            ))}
            <text
              transform={`translate(3397, ${(top + bottom) / 2}) rotate(90)`}
              textAnchor="middle"
              fontSize={35}
              fill="#1A1A1A"
            >
              {regions[i]}
            </text>
          </g>
        );
      })}
      {xMajor.map((v) => (
        <text key={`xl${v}`} x={x(v)} y={1963} textAnchor="middle" fontSize={35} fill="#4D4D4D">
          {String(v)}
        </text>
      ))}
      <text transform={`translate(57, 970) rotate(-90)`} textAnchor="middle" fontSize={43.7} fill="#000000">
        zNDVI
      </text>
    </svg>
  );
}
